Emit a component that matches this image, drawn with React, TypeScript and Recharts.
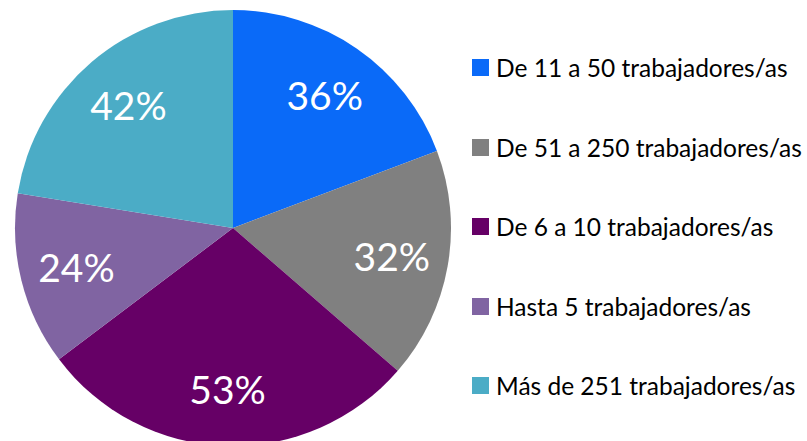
import { Cell, Legend, Pie, PieChart } from "recharts";

const categories = [
  "De 11 a 50 trabajadores/as",
  "De 51 a 250 trabajadores/as",
  "De 6 a 10 trabajadores/as",
  "Hasta 5 trabajadores/as",
  "Más de 251 trabajadores/as",
];
const values = [36, 32, 53, 24, 42];
const colors = ["#0A6AF8", "#808080", "#660066", "#8064A2", "#4BACC6"];

const data = categories.map((name, i) => ({ name, value: values[i] }));

const RADIAN = Math.PI / 180;

function SliceLabel(props: any) {
  const { cx, cy, midAngle, outerRadius, value } = props;
  const r = outerRadius * 0.74;
  const x = cx + r * Math.cos(-midAngle * RADIAN);
  const y = cy + r * Math.sin(-midAngle * RADIAN);
  return (
    <text
      x={x}
      y={y}
      fill="#ffffff"
      fontSize={39}
      fontFamily="Lato, sans-serif"
      textAnchor="middle"
      dominantBaseline="central"
    >
      {value}%
    </text>
  );
}

function LegendList() {
  return (
    <div style={{ fontFamily: "Lato, sans-serif" }}>
      {categories.map((name, i) => (
        <div key={name} style={{ height: 79.5, display: "flex", alignItems: "center" }}>
          <span style={{ width: 17, height: 17, background: colors[i], marginRight: 7, flex: "none" }} />
          <span style={{ fontSize: 24.5, color: "#000", whiteSpace: "nowrap" }}>{name}</span>
        </div>
      ))}
    </div>
  );
}

export default function App() {
  return (
    <div style={{ position: "absolute", left: 0, top: 0, background: "#fff" }}>
      <PieChart width={807} height={441}>
        <Pie
          data={data}
          dataKey="value"
          nameKey="name"
          cx={228}
          cy={223}
          outerRadius={218}
          startAngle={90}
          endAngle={-270}
          stroke="none"
          label={SliceLabel}
          labelLine={false}
          isAnimationActive={false}
        >
          {data.map((d, i) => (
            <Cell key={d.name} fill={colors[i]} />
          ))}
        </Pie>
        <Legend
          layout="vertical"
          content={<LegendList />}
          wrapperStyle={{ left: 472, top: 28, width: 335 }}
        />
      </PieChart>
    </div>
  );
}
